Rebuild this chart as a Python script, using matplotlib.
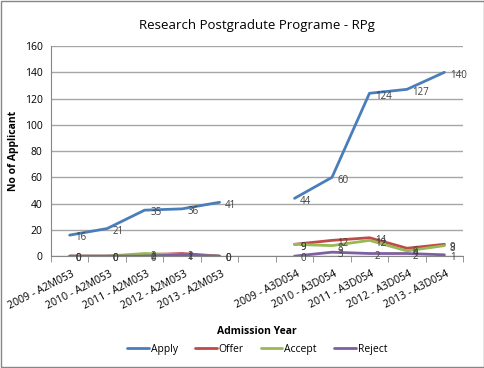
import matplotlib.pyplot as plt
import numpy as np

categories = ['2009 - A2M053', '2010 - A2M053', '2011 - A2M053', '2012 - A2M053', '2013 - A2M053', '',
              '2009 - A3D054', '2010 - A3D054', '2011 - A3D054', '2012 - A3D054', '2013 - A3D054']
apply_ = [16, 21, 35, 36, 41, None, 44, 60, 124, 127, 140]
offer = [0, 0, 1, 2, 0, None, 9, 12, 14, 6, 9]
accept = [0, 0, 2, 1, 0, None, 9, 8, 12, 4, 8]
reject = [0, 0, 0, 1, 0, None, 0, 3, 2, 2, 1]

series = [('Apply', apply_, '#4A7EBB'), ('Offer', offer, '#BE4B48'),
          ('Accept', accept, '#98B954'), ('Reject', reject, '#7D60A0')]

plt.rcParams['font.family'] = ['Open Sans', 'DejaVu Sans']

fig = plt.figure(figsize=(4.85, 3.68), dpi=100)
ax = fig.add_axes([0.105, 0.304, 0.85, 0.571])
x = np.arange(len(categories))

for name, vals, color in series:
    y = np.array([np.nan if v is None else v for v in vals], dtype=float)
    ax.plot(x, y, color=color, lw=2, label=name, solid_capstyle='round')
    for xi, yi in zip(x, y):
        if not np.isnan(yi):
            ax.annotate(f'{int(yi)}', (xi, yi), xytext=(4, -2), textcoords='offset points',
                        ha='left', va='center', fontsize=7, color='#404040')

ax.set_xlim(-0.5, len(categories) - 0.5)
ax.set_ylim(0, 160)
ax.set_yticks(range(0, 161, 20))
ax.yaxis.grid(True, color='#a6a6a6', lw=1)
ax.set_axisbelow(True)
ax.set_xticks(x + 0.05)
ax.set_xticklabels(categories, rotation=27, ha='right', rotation_mode='anchor', fontsize=7.6)
ax.set_xticks(np.arange(-0.5, len(categories)), minor=True)
ax.tick_params(axis='x', which='major', length=0, pad=9)
ax.tick_params(axis='x', which='minor', length=4, color='#868686')
ax.tick_params(axis='y', length=0, labelsize=7.5, pad=6)
for s in ['top', 'right']:
    ax.spines[s].set_visible(False)
ax.spines['left'].set_color('#868686')
ax.spines['bottom'].set_color('#868686')

ax.set_title('Research Postgradute Programe - RPg', fontsize=9.5, pad=12)
ax.set_ylabel('No of Applicant', fontsize=7.5, fontweight='bold')
ax.set_xlabel('Admission Year', fontsize=7.5, fontweight='bold', labelpad=10)
ax.legend(loc='center', bbox_to_anchor=(0.5, -0.445), ncol=4, frameon=False,
          fontsize=7.5, handlelength=2.1, columnspacing=1.6, handletextpad=0.2)

fig.patches.append(plt.Rectangle((0.002, 0.003), 0.995, 0.994, transform=fig.transFigure,
                                 fill=False, edgecolor='#868686', lw=1))
fig.savefig('out.png', dpi=100)
